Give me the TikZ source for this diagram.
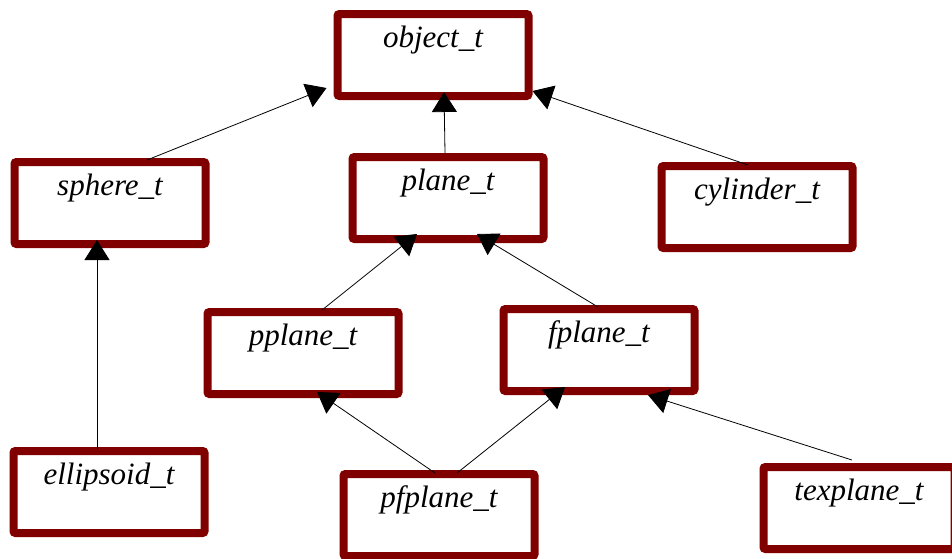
\documentclass[tikz,border=0pt]{standalone}
\usepackage{fontspec}
\setmainfont{Liberation Serif}
\usepackage{tikz}
\usetikzlibrary{arrows.meta, positioning}
\definecolor{boxred}{HTML}{800000}
\tikzset{
	cls/.style={draw=boxred, line width=8pt, rounded corners=2pt, fill=white,
		minimum width=191pt, minimum height=82pt, inner sep=0pt,
		font=\fontsize{31}{37}\selectfont\itshape, text height=21pt, text depth=37pt},
	inh/.style={draw=black, line width=0.8pt, -{Triangle[length=20pt,width=25pt]}}
}

\begin{document}
\begin{tikzpicture}[x=1pt, y=-1pt]
		\useasboundingbox (0,0) rectangle (952,558);

			%classes
			\node[cls] (object) at (433,55) {object\_t};
			\node[cls] (sphere) at (110,203) {sphere\_t};
			\node[cls] (plane) at (448,198) {plane\_t};
			\node[cls] (cylinder) at (757,207) {cylinder\_t};
			\node[cls] (pplane) at (303,353) {pplane\_t};
			\node[cls] (fplane) at (599,350) {fplane\_t};
			\node[cls] (ellipsoid) at (109,492) {ellipsoid\_t};
			\node[cls] (pfplane) at (439,515) {pfplane\_t};
			\node[cls] (texplane) at (859,508) {texplane\_t};

			%first level:
			\draw[inh] ([xshift=37pt,yshift=-2pt]sphere.north) -- ([xshift=-7pt,yshift=12pt]object.south west);
			\draw[inh] ([xshift=-3pt]plane.north) -- ([xshift=11pt,yshift=8pt]object.south);
			\draw[inh] ([xshift=-9pt,yshift=-3pt]cylinder.north) -- ([yshift=9pt]object.south east);

			%second level:
			\draw[inh] ([xshift=-12pt,yshift=-2pt]ellipsoid.north) -- ([xshift=-13pt,yshift=8pt]sphere.south);
			\draw[inh] ([xshift=19pt,yshift=-2pt]pplane.north) -- ([xshift=-31pt,yshift=9pt]plane.south);
			\draw[inh] ([xshift=-1pt,yshift=-2pt]fplane.north) -- ([xshift=29pt,yshift=9pt]plane.south);

			%third level:
			\draw[inh] ([xshift=-4pt,yshift=-3pt]pfplane.north) -- ([xshift=14pt,yshift=6pt]pplane.south);
			\draw[inh] ([xshift=18pt,yshift=-3pt]pfplane.north) -- ([xshift=-34pt,yshift=8pt]fplane.south);
			\draw[inh] ([xshift=-7pt,yshift=3pt]texplane.north) -- ([xshift=49pt]fplane.south);
	\end{tikzpicture}
\end{document}
